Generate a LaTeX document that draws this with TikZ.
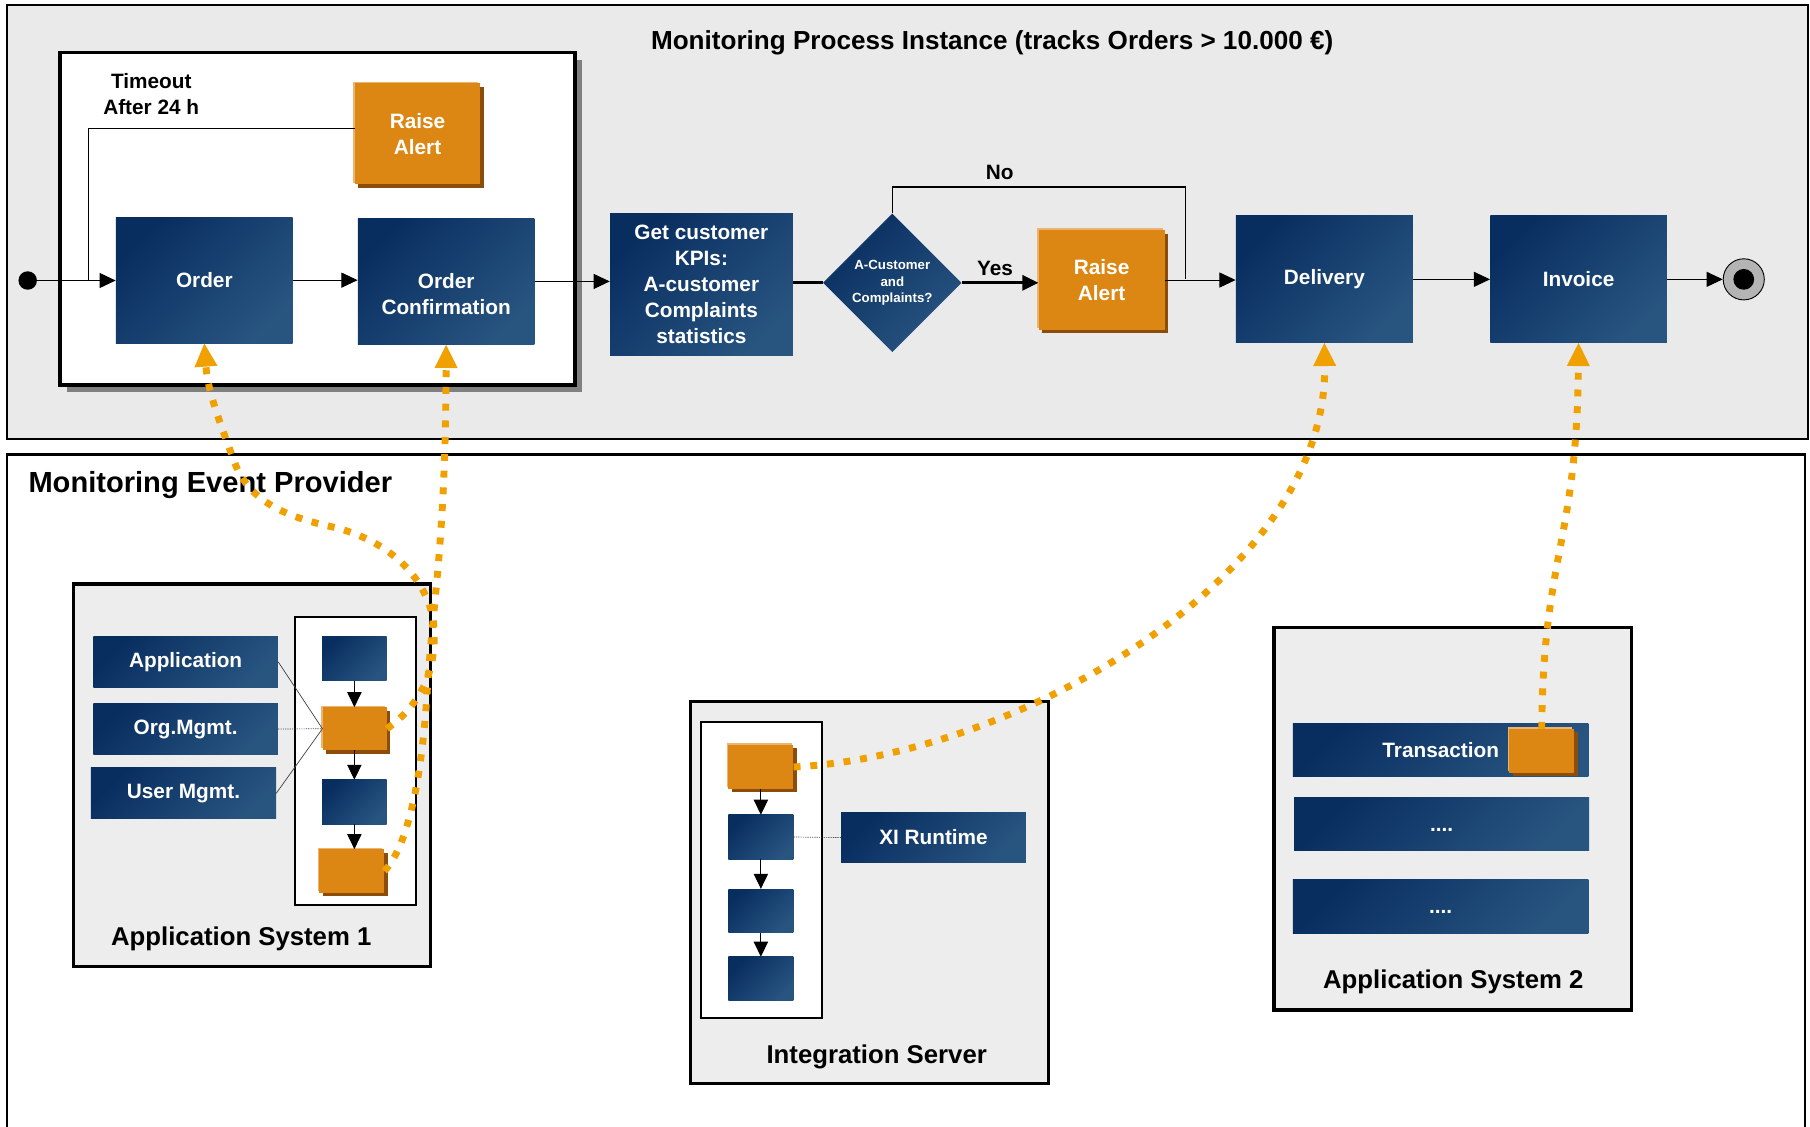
\documentclass[tikz,border=0pt]{standalone}
\usepackage{fontspec}
\setmainfont{Liberation Sans}
\usetikzlibrary{arrows.meta,shapes.geometric,shadows}
\definecolor{navyA}{RGB}{8,46,96}
\definecolor{navyB}{RGB}{40,84,128}
\definecolor{orM}{RGB}{220,135,20}
\definecolor{orL}{RGB}{236,180,112}
\definecolor{orD}{RGB}{140,76,10}
\definecolor{dotor}{RGB}{240,160,0}
\definecolor{panelgray}{RGB}{234,234,234}
\definecolor{sysgray}{RGB}{237,237,237}
\definecolor{shadowgray}{RGB}{128,128,128}
\definecolor{endgray}{RGB}{180,180,180}
\newcommand\fsz[2]{\fontsize{#1}{#2}\selectfont}
\begin{document}
\begin{tikzpicture}[x=1pt,y=-1pt,
  panel/.style={rectangle, draw=black, line width=2pt, inner sep=0pt},
  groupbox/.style={rectangle, draw=black, line width=3pt, fill=white, inner sep=0pt,
    general shadow={fill=shadowgray, shadow xshift=6pt, shadow yshift=-6pt}},
  sysbox/.style={rectangle, draw=black, line width=3pt, fill=sysgray, inner sep=0pt},
  innerbox/.style={rectangle, draw=black, line width=1.8pt, fill=white, inner sep=0pt},
  bluebox/.style={rectangle, inner sep=0pt, top color=navyA, bottom color=navyB, shading angle=45,
    text=white, font=\bfseries\fsz{18}{22.4}, align=center},
  orangebox/.style={rectangle, inner sep=0pt,
    general shadow={fill=orD, shadow xshift=3pt, shadow yshift=-3pt},
    general shadow={fill=orL, shadow xshift=-1.5pt, shadow yshift=1.5pt},
    fill=orM, text=white, font=\bfseries\fsz{18}{22.4}, align=center},
  diamondbox/.style={diamond, shape aspect=1, minimum size=120pt, inner sep=0pt,
    top color=navyA, bottom color=navyB, shading angle=45,
    text=white, font=\bfseries\fsz{11.5}{14}, align=center},
  labeltext/.style={font=\bfseries\fsz{18}{22.4}, align=center, inner sep=0pt},
  syslabel/.style={font=\bfseries\fsz{22.3}{26}, inner sep=0pt},
  arr/.style={-{Triangle[length=14pt,width=13pt]}, line width=0.9pt, draw=black},
  smallarr/.style={-{Triangle[length=13pt,width=12.4pt]}, line width=0.9pt, draw=black},
  thinline/.style={line width=0.9pt, draw=black},
  thickline/.style={line width=2.6pt, draw=black},
  linkline/.style={line width=0.6pt, draw=black!75},
  linkdot/.style={line width=0.6pt, draw=black!75, dash pattern=on 1pt off 1pt},
  dotarrow/.style={draw=dotor, line width=6pt, dash pattern=on 6pt off 8.5pt,
    -{Triangle[length=20pt,width=20pt,line width=0pt]}},
  startc/.style={circle, fill=black, minimum size=16pt, inner sep=0pt},
  endc/.style={circle, draw=black, line width=0.8pt, fill=endgray, minimum size=35.6pt, inner sep=0pt},
  endin/.style={circle, fill=black, minimum size=18pt, inner sep=0pt}
]
\useasboundingbox (0,0) rectangle (1568,976);

% panels
\node[panel, fill=panelgray, minimum width=1560.2pt, minimum height=376pt] (toppanel) at (785.9,192.3) {};
\node[panel, fill=white, minimum width=1557.7pt, minimum height=606.4pt] (botpanel) at (784.65,696.8) {};
\node[font=\bfseries\fsz{22.6}{26}, inner sep=0pt] (title) at (859.5,37.5) {Monitoring Process Instance (tracks Orders > 10.000 €)};
\node[font=\bfseries\fsz{25.2}{30}, anchor=west, inner sep=0pt] (mep) at (24.5,420.5) {Monitoring Event Provider};

% process group
\node[groupbox, minimum width=446pt, minimum height=288pt] (grp) at (275,189.6) {};
\node[labeltext] (timeout) at (131,81.2) {Timeout\\After 24 h};
\node[orangebox, minimum width=108.6pt, minimum height=87.5pt] (ra1) at (361.7,116) {Raise\\Alert};
\node[bluebox, minimum width=153.1pt, minimum height=109.4pt] (order) at (177,242.7) {Order};
\node[bluebox, minimum width=153pt, minimum height=109.6pt] (oc) at (386.5,243.8) {\vphantom{O}\\Order\\Confirmation};

% main flow
\node[bluebox, minimum width=158.3pt, minimum height=122.3pt] (gc) at (607.6,246.5) {Get customer\\KPIs:\\A-customer\\Complaints\\statistics};
\node[diamondbox] (dia) at (773,245) {A-Customer\\and\\Complaints?};
\node[orangebox, minimum width=109pt, minimum height=86.6pt] (ra2) at (954.3,242.6) {Raise\\Alert};
\node[bluebox, minimum width=153.4pt, minimum height=109.8pt] (del) at (1147.3,242) {\vphantom{D}Delivery\vphantom{y}};
\node[bluebox, minimum width=153pt, minimum height=109.8pt] (inv) at (1367.5,242) {Invoice};
\node[startc] (start) at (24,243) {};
\node[endc] (endc) at (1510.6,242) {};
\node[endin] (endin) at (endc) {};
\node[labeltext] (yes) at (862,232.5) {Yes};
\node[labeltext] (no) at (866,149) {No};

\coordinate (tj) at (77,243);
\coordinate (nt) at (1026.6,162);
\coordinate (nj) at (1026.6,242);

\draw[arr] (start.east) -- (start.east -| order.west);
\draw[thinline] ([yshift=5pt]ra1.west) -| (tj);
\draw[arr] (order.east) -- (order.east -| oc.west);
\draw[arr] (oc.east) -- (oc.east -| gc.west);
\draw[thickline] (dia.west -| gc.east) -- (dia.west);
\draw[thickline, -{Triangle[length=14pt,width=13pt]}] (dia.east) -- (dia.east -| ra2.west);
\draw[thinline] (dia.north) |- (nt) -- (nj);
\draw[arr] (ra2.east) -- (ra2.east -| del.west);
\draw[arr] (del.east) -- (inv.west);
\draw[arr] (inv.east) -- (endc.west);

% Application System 1
\node[sysbox, minimum width=309.5pt, minimum height=331.4pt] (as1) at (218.25,671.7) {};
\node[innerbox, minimum width=104.6pt, minimum height=249.8pt] (as1in) at (308.1,659.1) {};
\node[bluebox, minimum width=160pt, minimum height=44.7pt] (app) at (160.8,573.35) {Application};
\node[bluebox, minimum width=160pt, minimum height=44.5pt] (org) at (160.8,631.55) {Org.Mgmt.};
\node[bluebox, minimum width=160.3pt, minimum height=43.9pt] (usr) at (158.95,687.25) {User Mgmt.};
\node[bluebox, minimum width=56pt, minimum height=38.7pt] (a1b1) at (307,570.35) {};
\node[orangebox, minimum width=55.5pt, minimum height=37pt] (a1o1) at (307.25,631.3) {};
\node[bluebox, minimum width=56pt, minimum height=38.2pt] (a1b2) at (307,694.8) {};
\node[orangebox, minimum width=56.1pt, minimum height=37.5pt] (a1o2) at (304.65,754.55) {};
\node[syslabel] (as1lbl) at (209,813.7) {Application System 1};
\draw[smallarr] (a1b1.south) -- (a1b1.south |- a1o1.north);
\draw[smallarr] (a1o1.south -| a1b2.south) -- (a1b2.north);
\draw[smallarr] (a1b2.south) -- (a1b2.south |- a1o2.north);
\draw[linkline] (app.east) -- (a1o1.west);
\draw[linkdot] (org.east) -- (a1o1.west);
\draw[linkline] (usr.east) -- (a1o1.west);

% Integration Server
\node[sysbox, minimum width=309.8pt, minimum height=330.6pt] (is) at (753.3,773.2) {};
\node[innerbox, minimum width=105.4pt, minimum height=256.4pt] (isin) at (659.7,754) {};
\node[orangebox, minimum width=56.3pt, minimum height=38.1pt] (iso) at (659.15,664.45) {};
\node[bluebox, minimum width=56.3pt, minimum height=38.2pt] (isb1) at (659.15,725.1) {};
\node[bluebox, minimum width=56.3pt, minimum height=37.8pt] (isb2) at (659.15,789.1) {};
\node[bluebox, minimum width=56.3pt, minimum height=37.9pt] (isb3) at (659.15,847.95) {};
\node[bluebox, minimum width=160.2pt, minimum height=43.7pt] (xi) at (808.7,725.55) {XI Runtime};
\node[syslabel] (islbl) at (759.5,915.4) {Integration Server};
\draw[smallarr] (iso.south) -- (isb1.north);
\draw[smallarr] (isb1.south) -- (isb2.north);
\draw[smallarr] (isb2.south) -- (isb3.north);
\draw[linkdot] (isb1.east) -- (xi.west);

% Application System 2
\node[sysbox, minimum width=309.8pt, minimum height=331.5pt] (as2) at (1258.6,709.25) {};
\node[bluebox, minimum width=255.9pt, minimum height=46.2pt] (trans) at (1248.05,649.7) {Transaction};
\node[orangebox, minimum width=56.1pt, minimum height=37.9pt] (t2o) at (1335.55,650.45) {};
\node[bluebox, minimum width=255.6pt, minimum height=46.2pt] (bar2) at (1248.8,713.9) {\vphantom{T}....};
\node[bluebox, minimum width=256pt, minimum height=47.1pt] (bar3) at (1248,785.05) {\vphantom{T}....};
\node[syslabel] (as2lbl) at (1259,850.4) {Application System 2};

% event links
\draw[dotarrow] (a1o1.east) .. controls (362,612) and (378,585) .. (376,545)
  .. controls (374,505) and (340,468) .. (286,456)
  .. controls (240,446) and (214,430) .. (203,400)
  .. controls (192,370) and (180,340) .. (order.south);
\draw[dotarrow] (a1o2.east) .. controls (352,735) and (365,680) .. (370,600)
  .. controls (375,520) and (386,470) .. (oc.south);
\draw[dotarrow] (iso.east) .. controls (880,655) and (1150,500) .. (del.south);
\draw[dotarrow] (t2o.north) .. controls (1337,480) and (1366,470) .. (inv.south);
\end{tikzpicture}
\end{document}
